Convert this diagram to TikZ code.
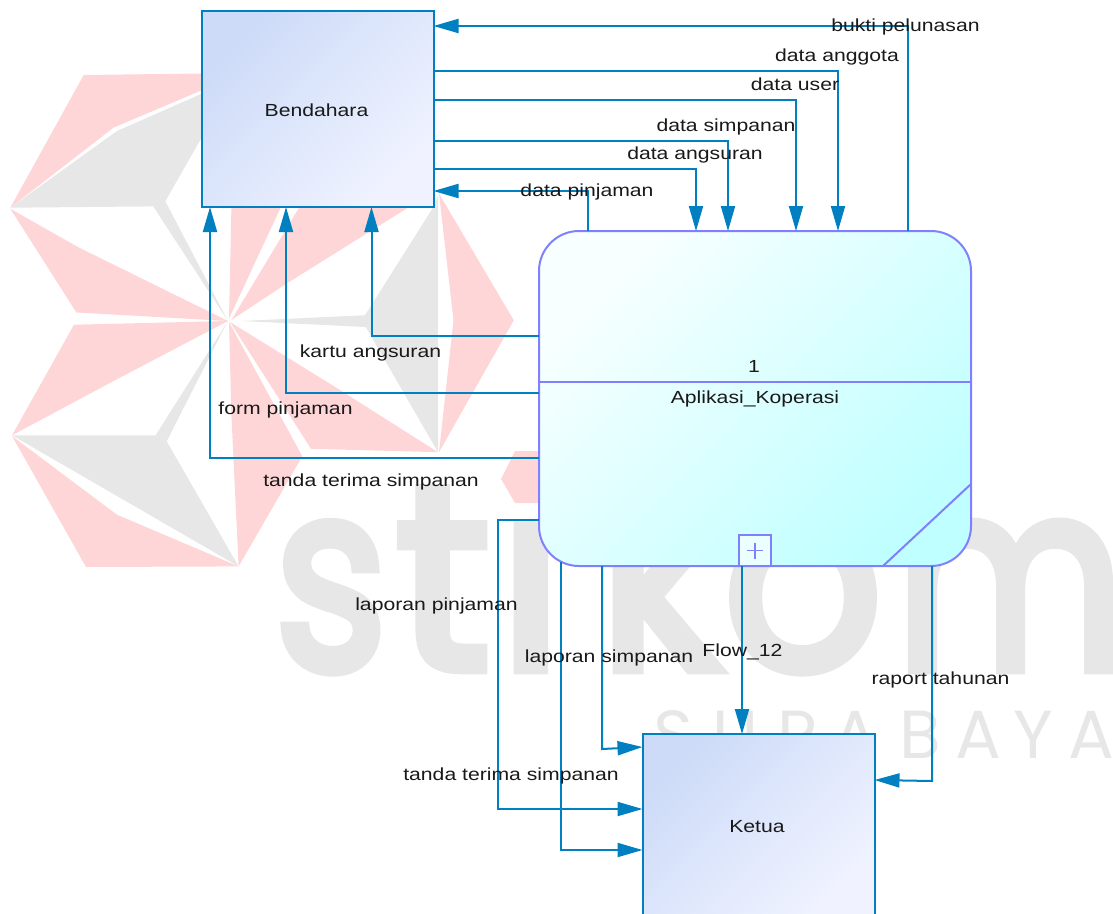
\documentclass[tikz,border=0pt]{standalone}
\usepackage{fontspec}
\setmainfont[FakeStretch=1.21]{Liberation Sans}
\newfontfamily\logofont{Poppins}
\newfontfamily\logoheavy[FakeBold=4]{Poppins}
\usetikzlibrary{arrows.meta,calc}
\definecolor{flowblue}{RGB}{0,128,192}
\definecolor{procline}{RGB}{128,128,255}
\definecolor{logored}{RGB}{255,214,216}
\definecolor{logogrey}{RGB}{231,231,231}

\begin{document}
\begin{tikzpicture}[
		x=1pt, y=-1pt,
		box/.style={draw=flowblue, line width=2pt, outer sep=0pt, top color={rgb,255:red,205;green,219;blue,248},
			bottom color={rgb,255:red,240;green,243;blue,255}, shading angle=45,
			minimum width=232pt, minimum height=#1},
		proc/.style={draw=procline, line width=2pt, outer sep=0pt, rounded corners=40pt,
			top color={rgb,255:red,248;green,255;blue,255}, bottom color={rgb,255:red,192;green,255;blue,255},
			shading angle=45, minimum width=432pt, minimum height=335pt},
		arr/.style={-{Triangle[length=25pt,width=14pt]}, draw=flowblue, line width=2pt},
		lbl/.style={font=\fontsize{17.5}{20}\selectfont, text=black!90, inner sep=0pt, text height=16pt, text depth=4pt},
		logotext/.style={text=logogrey, font=\logoheavy\fontsize{262}{262}\selectfont, inner sep=0pt, anchor=base, transform shape},
		citytext/.style={text=logogrey, font=\logofont\fontsize{68}{68}\selectfont, inner sep=0pt, anchor=base}
		]
		\clip (0,0) rectangle (1113,913);
		
		% Watermark behind everything
		\fill[logored] (83.7,75) -- (201.5,73.5) -- (201.5,90.4) -- (113.6,127.6) -- (10.3,207.7) -- cycle;
		\fill[logogrey] (10.3,207.7) -- (117,131) -- (201.5,93.8) -- (201.5,137.8) -- (165.3,201.3) -- (228,321) -- (153.2,206.4) -- cycle;
		\fill[logored] (10.3,208.7) -- (79,247.6) -- (228,321) -- (76.4,312.5) -- cycle;
		\fill[logored] (12,435.3) -- (74,324.7) -- (228,321) -- (110,382.9) -- cycle;
		\fill[logogrey] (12,435.3) -- (155.6,435.3) -- (227.3,322) -- (166.7,441.3) -- (238.6,566.4) -- cycle;
		\fill[logored] (12,436) -- (117,514.7) -- (238.6,566.4) -- (86,567) -- cycle;
		\fill[logored] (229,322) -- (302.3,456.2) -- (238.6,566.4) -- (231.4,415) -- cycle;
		\fill[logored] (230,322) -- (334,386.2) -- (438,452.2) -- (311,448.8) -- cycle;
		\fill[logogrey] (241,321) -- (365,315.2) -- (433,207.7) -- (438,195) -- (438,452.2) -- (365.7,327) -- cycle;
		\fill[logored] (439,193.5) -- (513.8,320.3) -- (439,452.2) -- (453.5,320.3) -- cycle;
		\fill[logored] (231.4,207.7) -- (280.6,207.7) -- (229,318.6) -- cycle;
		\fill[logored] (299,207.7) -- (408,207.7) -- (287.5,283) -- (231.4,320) -- cycle;
		\fill[logored] (501,479) -- (515,451) -- (560,451) -- (560,503) -- (515,503) -- cycle;
		\foreach \ch/\xpos/\xsc [count=\i] in {s/331/0.82,t/443/1,ı/531/1,k/660/0.9,o/803/0.95,m/1010/0.85}
			\node[logotext, xscale=\xsc] (stikom\i) at (\xpos,669) {\ch};
		\foreach \ch/\xpos [count=\i] in {S/673,U/735,R/798,A/855,B/920,A/978,Y/1033,A/1091}
			\node[citytext] (surabaya\i) at (\xpos,758) {\ch};
		
		% Entities and process
		\node[box=196pt] (bendahara) at (317.5,109) {};
		\node[box=184pt] (ketua)     at (758.5,826) {};
		\node[proc]      (koperasi)  at (755,398.5) {};
		\node[draw=procline, line width=2pt, fill={rgb,255:red,236;green,255;blue,255}, minimum width=32pt, minimum height=31pt, inner sep=0pt, outer sep=0pt, anchor=south] (plusbox) at (755,566) {};
		
		% Process details
		\draw[procline, line width=2pt] ([yshift=16.5pt]koperasi.west) -- ([yshift=16.5pt]koperasi.east);
		\draw[procline, line width=2pt] ([yshift=82pt]koperasi.south east) -- ([xshift=-88pt]koperasi.south east);
		\draw[procline, line width=1.5pt] ([xshift=-8pt]plusbox.center) -- ([xshift=8pt]plusbox.center);
		\draw[procline, line width=1.5pt] ([yshift=-8pt]plusbox.center) -- ([yshift=8pt]plusbox.center);
		
		% Arrows between Bendahara and the process
		\draw[arr] ([xshift=369pt]koperasi.north west) |- ([yshift=83pt]bendahara.east);
		\draw[arr] ([yshift=38pt]bendahara.east) -| ([xshift=299pt]koperasi.north west);
		\draw[arr] ([yshift=9pt]bendahara.east) -| ([xshift=257pt]koperasi.north west);
		\draw[arr] ([yshift=-32pt]bendahara.east) -| ([xshift=189pt]koperasi.north west);
		\draw[arr] ([yshift=-60pt]bendahara.east) -| ([xshift=157pt]koperasi.north west);
		\draw[arr] ([xshift=49pt]koperasi.north west) |- ([yshift=-82pt]bendahara.east);
		\draw[arr] ([yshift=62.5pt]koperasi.west) -| ([xshift=54pt]bendahara.south);
		\draw[arr] ([yshift=5.5pt]koperasi.west) -| ([xshift=-31.5pt]bendahara.south);
		\draw[arr] ([yshift=-59.5pt]koperasi.west) -| ([xshift=-107.5pt]bendahara.south);
		
		% Arrows between the process and Ketua
		\draw[arr] ([yshift=-121.5pt]koperasi.west) -- ++(-41,0) |- ([yshift=17pt]ketua.west);
		\draw[arr] ([xshift=22pt,yshift=4.5pt]koperasi.south west) |- ([yshift=-24pt]ketua.west);
		\draw[arr] ([xshift=63pt]koperasi.south west) -- ++(0,183) -- ([yshift=79pt]ketua.west);
		\draw[arr] ([xshift=203pt]koperasi.south west) -- ([xshift=-16.5pt]ketua.north);
		\draw[arr] ([xshift=393pt]koperasi.south west) -- ++(0,215) -- ([yshift=46pt]ketua.east);
		
		% Labels
		\node[lbl] (namebendahara) at (316.5,110) {Bendahara};
		\node[lbl] (nameketua)     at (757,826)   {Ketua};
		\node[lbl] (procnumber)    at (754,366)   {1};
		\node[lbl] (procname)      at (755,397)   {Aplikasi\_Koperasi};
		\node[lbl] (lblbukti)      at (905.5,25)  {bukti pelunasan};
		\node[lbl] (lblanggota)    at (837,55)    {data anggota};
		\node[lbl] (lbluser)       at (795,84)    {data user};
		\node[lbl] (lblsimpanan)   at (726,125)   {data simpanan};
		\node[lbl] (lblangsuran)   at (695,153)   {data angsuran};
		\node[lbl] (lblpinjaman)   at (587,190)   {data pinjaman};
		\node[lbl] (lblkartu)      at (370.5,351) {kartu angsuran};
		\node[lbl] (lblform)       at (285.5,408) {form pinjaman};
		\node[lbl] (lbltanda)      at (371,480)   {tanda terima simpanan};
		\node[lbl] (lbllappinjam)  at (436.5,604) {laporan pinjaman};
		\node[lbl] (lbllapsimpan)  at (609,656)   {laporan simpanan};
		\node[lbl] (lblflow)       at (742.5,650) {Flow\_12};
		\node[lbl] (lblraport)     at (940.5,678) {raport tahunan};
		\node[lbl] (lbltandaketua) at (511,774)   {tanda terima simpanan};
	\end{tikzpicture}
\end{document}
